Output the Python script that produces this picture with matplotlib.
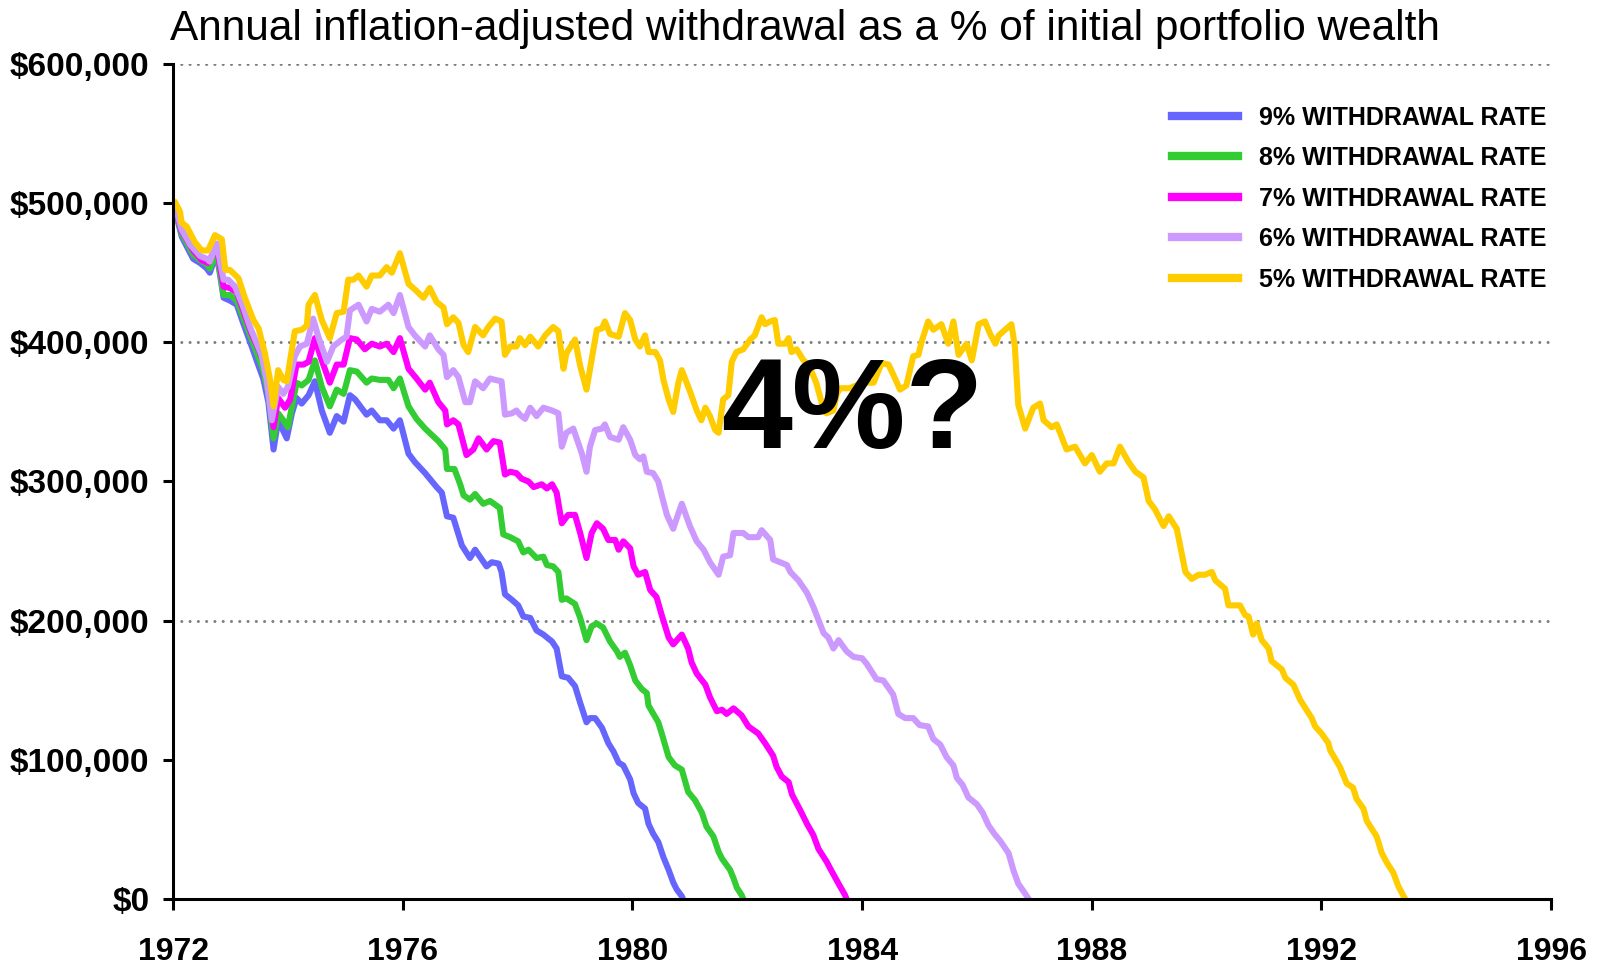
import matplotlib
matplotlib.use("Agg")
import matplotlib.pyplot as plt
import numpy as np

# portfolio wealth (thousand $), (year, value) pairs
rate9 = [(1972.0, 497), (1972.03, 496), (1972.15, 476), (1972.35, 460), (1972.47, 457), (1972.59, 453), (1972.64, 450),
         (1972.76, 464), (1972.88, 432), (1972.99, 430), (1973.11, 427), (1973.22, 414), (1973.37, 397), (1973.49, 383),
         (1973.57, 374), (1973.66, 357), (1973.75, 323), (1973.83, 344), (1973.98, 331), (1974.07, 349), (1974.15, 360),
         (1974.24, 356), (1974.36, 362), (1974.47, 372), (1974.59, 351), (1974.73, 335), (1974.85, 347), (1974.97, 343),
         (1975.08, 362), (1975.17, 359), (1975.37, 348), (1975.46, 351), (1975.6, 344), (1975.72, 344), (1975.84, 338),
         (1975.95, 344), (1976.1, 320), (1976.21, 314), (1976.39, 306), (1976.59, 296), (1976.68, 292), (1976.77, 275),
         (1976.88, 274), (1977.03, 254), (1977.17, 245), (1977.26, 251), (1977.46, 239), (1977.55, 242), (1977.67, 241),
         (1977.72, 235), (1977.78, 219), (1977.9, 215), (1978.01, 211), (1978.1, 203), (1978.22, 202), (1978.33, 193),
         (1978.45, 190), (1978.6, 185), (1978.68, 180), (1978.77, 160), (1978.88, 159), (1979.0, 153), (1979.09, 141),
         (1979.2, 127), (1979.26, 130), (1979.35, 130), (1979.47, 123), (1979.58, 112), (1979.67, 106), (1979.76, 98),
         (1979.84, 96), (1979.96, 86), (1980.02, 76), (1980.1, 69), (1980.22, 65), (1980.28, 54), (1980.36, 47),
         (1980.45, 41), (1980.54, 30), (1980.63, 21), (1980.71, 12), (1980.77, 7), (1980.86, 2), (1980.88, 0)]

rate8 = [(1972.0, 498), (1972.03, 497), (1972.15, 478), (1972.35, 463), (1972.47, 459), (1972.59, 456), (1972.64, 453),
         (1972.76, 465), (1972.88, 434), (1972.99, 434), (1973.11, 430), (1973.22, 418), (1973.37, 402), (1973.49, 389),
         (1973.57, 380), (1973.66, 363), (1973.75, 331), (1973.83, 349), (1973.92, 344), (1974.0, 339), (1974.15, 371),
         (1974.24, 369), (1974.36, 373), (1974.47, 387), (1974.59, 368), (1974.73, 354), (1974.85, 366), (1974.97, 363),
         (1975.08, 380), (1975.2, 379), (1975.37, 371), (1975.46, 374), (1975.6, 373), (1975.75, 373), (1975.84, 367),
         (1975.95, 374), (1976.1, 354), (1976.24, 345), (1976.39, 338), (1976.62, 329), (1976.74, 323), (1976.77, 309),
         (1976.9, 309), (1977.0, 298), (1977.06, 290), (1977.17, 287), (1977.26, 291), (1977.4, 284), (1977.52, 286),
         (1977.69, 281), (1977.75, 262), (1977.87, 260), (1978.01, 257), (1978.1, 249), (1978.19, 251), (1978.33, 245),
         (1978.45, 246), (1978.51, 240), (1978.62, 239), (1978.71, 235), (1978.77, 215), (1978.85, 216), (1979.0, 212),
         (1979.09, 202), (1979.2, 186), (1979.29, 196), (1979.38, 198), (1979.49, 195), (1979.61, 185), (1979.73, 178),
         (1979.78, 174), (1979.87, 177), (1979.96, 168), (1980.05, 157), (1980.16, 151), (1980.25, 148), (1980.28, 139),
         (1980.45, 127), (1980.51, 119), (1980.63, 102), (1980.74, 96), (1980.86, 93), (1980.97, 77), (1981.09, 71),
         (1981.21, 62), (1981.29, 52), (1981.41, 45), (1981.5, 34), (1981.56, 29), (1981.7, 21), (1981.76, 15),
         (1981.82, 8), (1981.9, 3), (1981.93, 0)]

rate7 = [(1972.0, 499), (1972.03, 498), (1972.15, 480), (1972.35, 466), (1972.5, 459), (1972.61, 457), (1972.76, 469),
         (1972.88, 440), (1972.99, 439), (1973.11, 436), (1973.22, 423), (1973.37, 406), (1973.49, 395), (1973.57, 387),
         (1973.66, 371), (1973.75, 339), (1973.83, 360), (1973.95, 353), (1974.04, 359), (1974.15, 384), (1974.27, 384),
         (1974.36, 386), (1974.47, 403), (1974.59, 387), (1974.73, 371), (1974.85, 384), (1974.97, 384), (1975.08, 403),
         (1975.2, 402), (1975.34, 395), (1975.46, 399), (1975.6, 397), (1975.72, 399), (1975.84, 393), (1975.95, 403),
         (1976.1, 381), (1976.24, 374), (1976.39, 366), (1976.47, 371), (1976.62, 357), (1976.74, 351), (1976.77, 341),
         (1976.88, 344), (1976.97, 341), (1977.11, 319), (1977.23, 323), (1977.32, 331), (1977.46, 323), (1977.58, 329),
         (1977.69, 328), (1977.78, 305), (1977.87, 307), (1977.98, 306), (1978.07, 302), (1978.19, 300), (1978.28, 296),
         (1978.42, 298), (1978.51, 295), (1978.6, 298), (1978.68, 292), (1978.77, 270), (1978.88, 276), (1979.0, 276),
         (1979.09, 263), (1979.2, 245), (1979.29, 263), (1979.38, 270), (1979.49, 266), (1979.58, 258), (1979.7, 258),
         (1979.76, 251), (1979.84, 257), (1979.96, 252), (1980.02, 239), (1980.1, 233), (1980.22, 235), (1980.31, 222),
         (1980.42, 217), (1980.51, 204), (1980.63, 188), (1980.71, 183), (1980.86, 190), (1980.97, 180), (1981.03, 170),
         (1981.12, 162), (1981.27, 154), (1981.35, 145), (1981.47, 135), (1981.56, 136), (1981.64, 133), (1981.76, 137),
         (1981.9, 132), (1982.02, 124), (1982.19, 119), (1982.31, 112), (1982.45, 103), (1982.51, 95), (1982.6, 88),
         (1982.72, 84), (1982.78, 75), (1982.92, 64), (1983.04, 54), (1983.15, 46), (1983.24, 36), (1983.38, 27),
         (1983.47, 20), (1983.59, 11), (1983.7, 3), (1983.73, 0)]

rate6 = [(1972.0, 500), (1972.03, 499), (1972.15, 481), (1972.3, 470), (1972.47, 462), (1972.59, 460), (1972.64, 458),
         (1972.76, 471), (1972.88, 445), (1972.96, 445), (1973.08, 440), (1973.2, 428), (1973.34, 411), (1973.46, 399),
         (1973.54, 391), (1973.63, 373), (1973.72, 344), (1973.83, 368), (1973.92, 363), (1974.0, 368), (1974.12, 390),
         (1974.21, 397), (1974.33, 399), (1974.44, 417), (1974.53, 404), (1974.68, 386), (1974.79, 397), (1974.94, 402),
         (1975.02, 404), (1975.08, 423), (1975.23, 427), (1975.37, 415), (1975.46, 424), (1975.6, 422), (1975.75, 427),
         (1975.84, 421), (1975.95, 434), (1976.1, 411), (1976.21, 405), (1976.39, 397), (1976.47, 405), (1976.62, 395),
         (1976.71, 391), (1976.77, 375), (1976.88, 380), (1976.97, 375), (1977.09, 357), (1977.17, 357), (1977.26, 372),
         (1977.4, 367), (1977.52, 374), (1977.61, 373), (1977.72, 372), (1977.78, 348), (1977.9, 349), (1977.98, 351),
         (1978.04, 348), (1978.13, 345), (1978.22, 353), (1978.33, 347), (1978.45, 353), (1978.6, 351), (1978.71, 349),
         (1978.77, 325), (1978.85, 335), (1978.97, 338), (1979.12, 320), (1979.2, 307), (1979.26, 325), (1979.35, 337),
         (1979.47, 338), (1979.52, 341), (1979.61, 332), (1979.76, 330), (1979.84, 339), (1979.96, 330), (1980.05, 319),
         (1980.13, 316), (1980.19, 318), (1980.25, 307), (1980.36, 306), (1980.45, 300), (1980.51, 290), (1980.6, 276),
         (1980.71, 266), (1980.8, 277), (1980.86, 284), (1981.0, 268), (1981.12, 257), (1981.24, 251), (1981.35, 242),
         (1981.5, 233), (1981.58, 246), (1981.7, 247), (1981.76, 263), (1981.93, 263), (1982.02, 260), (1982.19, 260),
         (1982.25, 265), (1982.4, 258), (1982.45, 244), (1982.57, 242), (1982.69, 240), (1982.75, 235), (1982.89, 229),
         (1983.04, 220), (1983.15, 210), (1983.33, 191), (1983.41, 188), (1983.5, 180), (1983.59, 186), (1983.73, 178),
         (1983.85, 174), (1984.0, 173), (1984.08, 169), (1984.25, 158), (1984.37, 157), (1984.54, 147), (1984.63, 133),
         (1984.75, 130), (1984.89, 130), (1985.0, 125), (1985.15, 124), (1985.24, 115), (1985.36, 111), (1985.47, 102),
         (1985.59, 96), (1985.65, 87), (1985.75, 82), (1985.85, 73), (1986.0, 68), (1986.1, 62), (1986.2, 53),
         (1986.3, 47), (1986.4, 42), (1986.55, 33), (1986.64, 20), (1986.72, 11), (1986.87, 2), (1986.9, 0)]

rate5 = [(1972.0, 500), (1972.03, 501), (1972.12, 494), (1972.15, 486), (1972.24, 483), (1972.38, 472), (1972.5, 466),
         (1972.61, 466), (1972.73, 477), (1972.85, 474), (1972.91, 452), (1972.99, 452), (1973.14, 446), (1973.25, 432),
         (1973.4, 416), (1973.49, 410), (1973.6, 392), (1973.69, 373), (1973.75, 354), (1973.83, 380), (1973.92, 373),
         (1973.98, 372), (1974.12, 408), (1974.24, 409), (1974.33, 412), (1974.36, 427), (1974.47, 434), (1974.59, 416),
         (1974.73, 403), (1974.85, 421), (1974.97, 422), (1975.05, 445), (1975.14, 445), (1975.23, 448), (1975.37, 440),
         (1975.46, 448), (1975.6, 448), (1975.72, 454), (1975.81, 450), (1975.95, 464), (1976.1, 442), (1976.21, 438),
         (1976.36, 432), (1976.47, 439), (1976.59, 429), (1976.71, 425), (1976.77, 413), (1976.88, 418), (1976.97, 414),
         (1977.06, 398), (1977.14, 393), (1977.26, 411), (1977.4, 405), (1977.49, 411), (1977.61, 417), (1977.72, 415),
         (1977.78, 391), (1977.87, 397), (1977.98, 397), (1978.04, 403), (1978.13, 398), (1978.22, 404), (1978.36, 397),
         (1978.48, 405), (1978.62, 411), (1978.71, 408), (1978.8, 381), (1978.85, 392), (1979.0, 402), (1979.09, 383),
         (1979.2, 366), (1979.32, 395), (1979.38, 409), (1979.47, 410), (1979.52, 415), (1979.61, 406), (1979.76, 404),
         (1979.87, 421), (1979.96, 416), (1980.05, 402), (1980.13, 397), (1980.22, 405), (1980.28, 393), (1980.4, 393),
         (1980.48, 387), (1980.54, 373), (1980.63, 359), (1980.71, 350), (1980.8, 371), (1980.86, 380), (1981.0, 365),
         (1981.12, 351), (1981.2, 344), (1981.27, 353), (1981.35, 347), (1981.44, 337), (1981.5, 335), (1981.58, 359),
         (1981.67, 362), (1981.73, 386), (1981.81, 393), (1981.93, 395), (1982.05, 402), (1982.13, 405), (1982.25, 418),
         (1982.31, 413), (1982.4, 415), (1982.48, 416), (1982.54, 399), (1982.66, 399), (1982.72, 403), (1982.77, 393),
         (1982.86, 395), (1982.98, 387), (1983.07, 384), (1983.2, 371), (1983.32, 353), (1983.38, 349), (1983.5, 351),
         (1983.56, 363), (1983.62, 367), (1983.79, 367), (1984.0, 371), (1984.2, 371), (1984.34, 385), (1984.46, 384),
         (1984.54, 377), (1984.66, 366), (1984.77, 369), (1984.89, 390), (1984.98, 391), (1985.04, 401), (1985.15, 415),
         (1985.24, 409), (1985.38, 413), (1985.5, 399), (1985.59, 415), (1985.68, 391), (1985.82, 399), (1985.91, 387),
         (1986.03, 413), (1986.14, 415), (1986.23, 406), (1986.32, 399), (1986.38, 405), (1986.6, 413), (1986.66, 397),
         (1986.72, 355), (1986.84, 338), (1986.98, 353), (1987.1, 356), (1987.16, 344), (1987.3, 339), (1987.39, 341),
         (1987.56, 323), (1987.71, 325), (1987.88, 313), (1988.0, 319), (1988.14, 307), (1988.26, 313), (1988.38, 313),
         (1988.49, 325), (1988.64, 314), (1988.76, 307), (1988.9, 303), (1988.99, 286), (1989.1, 280), (1989.25, 268),
         (1989.34, 275), (1989.48, 266), (1989.63, 235), (1989.74, 230), (1989.86, 233), (1989.97, 233), (1990.09, 235),
         (1990.15, 229), (1990.32, 223), (1990.38, 211), (1990.58, 211), (1990.67, 204), (1990.73, 203), (1990.81, 190),
         (1990.87, 198), (1990.96, 186), (1991.08, 180), (1991.13, 171), (1991.31, 165), (1991.37, 159), (1991.51, 154),
         (1991.63, 143), (1991.83, 130), (1991.89, 124), (1992.0, 119), (1992.12, 112), (1992.15, 107), (1992.32, 95),
         (1992.44, 83), (1992.55, 80), (1992.61, 72), (1992.73, 65), (1992.79, 56), (1992.96, 45), (1993.05, 33),
         (1993.14, 26), (1993.25, 19), (1993.34, 9), (1993.43, 2), (1993.46, 0)]

labels = ['9% WITHDRAWAL RATE', '8% WITHDRAWAL RATE', '7% WITHDRAWAL RATE',
          '6% WITHDRAWAL RATE', '5% WITHDRAWAL RATE']
colors = ['#6666FF', '#33CC33', '#FF00FF', '#CC99FF', '#FFCC00']
year_ticks = [1972, 1976, 1980, 1984, 1988, 1992, 1996]
dollar_ticks = [0, 100000, 200000, 300000, 400000, 500000, 600000]

plt.rcParams['font.family'] = ['Liberation Sans', 'DejaVu Sans']

fig = plt.figure(figsize=(15.98, 9.69), dpi=100)
ax = fig.add_axes([0.1083, 0.0722, 0.8624, 0.8618])

for series, lab, col in zip([rate9, rate8, rate7, rate6, rate5], labels, colors):
    arr = np.array(series, dtype=float)
    ax.plot(arr[:, 0], arr[:, 1] * 1000, color=col, lw=4.4, label=lab,
            solid_joinstyle='round', zorder=3)

ax.set_xlim(1972, 1996)
ax.set_ylim(0, 600000)
ax.set_xticks(year_ticks)
ax.set_xticklabels([str(y) for y in year_ticks], fontweight='bold', fontsize=23)
ax.set_yticks(dollar_ticks)
ax.set_yticklabels(['${:,}'.format(v) for v in dollar_ticks],
                   fontweight='bold', fontsize=24)
ax.tick_params(axis='x', length=8, width=2.2, pad=19)
ax.tick_params(axis='y', length=7, width=2.2, pad=10)

# dotted grid only at 200k steps
for v in [200000, 400000, 600000]:
    ax.axhline(v, color='#808080', lw=2.2, ls=(0, (0.01, 2.7)),
               dash_capstyle='round', zorder=1)

for s in ['top', 'right']:
    ax.spines[s].set_visible(False)
for s in ['left', 'bottom']:
    ax.spines[s].set_linewidth(2.2)
    ax.spines[s].set_zorder(4)

leg = ax.legend(loc='upper left', bbox_to_anchor=(0.725, 0.95), frameon=False,
                borderpad=0, borderaxespad=0, handlelength=2.64,
                handletextpad=0.85, labelspacing=0.66,
                prop={'weight': 'bold', 'size': 18})
for line in leg.get_lines():
    line.set_linewidth(6)

ax.text(1983.83, 324000, '4%?', fontsize=92, fontweight='bold',
        ha='center', va='baseline', zorder=5)

fig.text(170 / 1598, 1 - 40 / 969,
         'Annual inflation-adjusted withdrawal as a % of initial portfolio wealth',
         fontsize=30.5, ha='left', va='baseline')

fig.savefig('out.png', dpi=100)
